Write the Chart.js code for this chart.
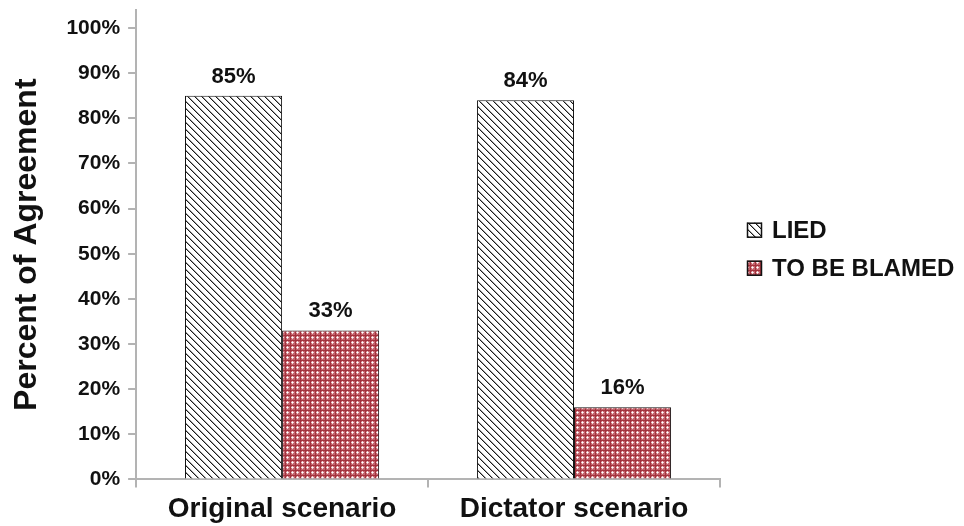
<!DOCTYPE html>
<html>
<head>
<meta charset="utf-8">
<script src="https://cdn.jsdelivr.net/npm/chart.js@4"></script>
<style>
  html, body { margin: 0; padding: 0; background: #fff; }
  #wrap { width: 964px; height: 526px; }
</style>
</head>
<body>
<div id="wrap"><canvas id="chart" width="964" height="526"></canvas></div>
<script>
const categories = ['Original scenario', 'Dictator scenario']
const lied = [85, 84]
const blamed = [33, 16]
const seriesNames = ['LIED', 'TO BE BLAMED']
const yTicks = [0, 10, 20, 30, 40, 50, 60, 70, 80, 90, 100]

const FONT = '"Liberation Sans", Arial, sans-serif'

// black diagonal hatch on white
function hatchPattern() {
  const c = document.createElement('canvas')
  c.width = 7; c.height = 7
  const g = c.getContext('2d')
  g.fillStyle = '#fff'
  g.fillRect(0, 0, 7, 7)
  for (let i = 0; i < 7; i++) {
    g.fillStyle = '#1a1a1a'
    g.fillRect(i, i, 1, 1)
    g.fillStyle = '#a0a0a0'
    g.fillRect((i + 1) % 7, i, 1, 1)
  }
  return g.createPattern(c, 'repeat')
}

// dark red crosshatch with white dots
function crossPattern() {
  const c = document.createElement('canvas')
  c.width = 5; c.height = 5
  const g = c.getContext('2d')
  g.fillStyle = '#c4646d'
  g.fillRect(0, 0, 5, 5)
  g.fillStyle = '#a3323d'
  g.fillRect(0, 0, 5, 1)
  g.fillRect(0, 0, 1, 5)
  g.fillStyle = '#f0d0d3'
  g.fillRect(2, 1, 1, 3)
  g.fillRect(1, 2, 3, 1)
  g.fillStyle = '#ffffff'
  g.fillRect(2, 2, 1, 1)
  return g.createPattern(c, 'repeat')
}

const valueLabels = {
  id: 'valueLabels',
  afterDatasetsDraw(chart) {
    const ctx = chart.ctx
    ctx.save()
    ctx.font = 'bold 22px ' + FONT
    ctx.fillStyle = '#111'
    ctx.textAlign = 'center'
    ctx.textBaseline = 'alphabetic'
    chart.data.datasets.forEach((ds, i) => {
      chart.getDatasetMeta(i).data.forEach((bar, j) => {
        ctx.fillText(ds.data[j] + '%', bar.x, bar.y - 13)
      })
    })
    ctx.restore()
  }
}

// legend drawn to the right of the plot, like the original
const sideLegend = {
  id: 'sideLegend',
  afterDraw(chart) {
    const ctx = chart.ctx
    const area = chart.chartArea
    const mid = (area.top + area.bottom) / 2
    const x = area.right + 27
    ctx.save()
    ctx.font = 'bold 24px ' + FONT
    ctx.textBaseline = 'middle'
    chart.data.datasets.forEach((ds, i) => {
      const cy = mid - 14 + i * 38
      ctx.fillStyle = ds.backgroundColor
      ctx.fillRect(x, cy - 8, 15, 15)
      ctx.strokeStyle = '#111'
      ctx.lineWidth = 1.5
      ctx.strokeRect(x + 0.5, cy - 7.5, 14, 14)
      ctx.fillStyle = '#111'
      ctx.fillText(ds.label, x + 25, cy + 1)
    })
    ctx.restore()
  }
}

const axisGrey = '#b3b3b3'

new Chart(document.getElementById('chart'), {
  type: 'bar',
  data: {
    labels: categories,
    datasets: [
      {
        label: seriesNames[0],
        data: lied,
        backgroundColor: hatchPattern(),
        borderColor: '#111',
        borderWidth: 1,
        borderSkipped: 'bottom'
      },
      {
        label: seriesNames[1],
        data: blamed,
        backgroundColor: crossPattern(),
        borderColor: '#111',
        borderWidth: 1,
        borderSkipped: 'bottom'
      }
    ]
  },
  options: {
    responsive: false,
    animation: false,
    devicePixelRatio: 1,
    layout: { padding: { top: 10, right: 244, left: 8, bottom: -5 } },
    categoryPercentage: 0.665,
    barPercentage: 1,
    plugins: {
      legend: { display: false },
      tooltip: { enabled: false }
    },
    scales: {
      x: {
        border: { color: axisGrey, width: 2 },
        grid: {
          offset: true,
          drawOnChartArea: false,
          drawTicks: true,
          tickLength: 8,
          color: axisGrey,
          lineWidth: 2
        },
        ticks: {
          color: '#111',
          padding: 5,
          font: { family: FONT, size: 28, weight: 'bold' }
        }
      },
      y: {
        min: 0,
        max: 104,
        border: { color: axisGrey, width: 2 },
        afterBuildTicks(scale) {
          scale.ticks = yTicks.map(v => ({ value: v }))
        },
        afterFit(scale) {
          // top tick sits below the axis end, no label padding needed there
          scale.paddingTop = 0
        },
        grid: {
          drawOnChartArea: false,
          drawTicks: true,
          tickLength: 8,
          color: axisGrey,
          lineWidth: 2
        },
        ticks: {
          color: '#111',
          padding: 8,
          callback: v => v + '%',
          font: { family: FONT, size: 21, weight: 'bold' }
        },
        title: {
          display: true,
          text: 'Percent of Agreement',
          color: '#111',
          padding: { top: 0, bottom: 12 },
          font: { family: FONT, size: 32, weight: 'bold' }
        }
      }
    }
  },
  plugins: [valueLabels, sideLegend]
})
</script>
</body>
</html>
